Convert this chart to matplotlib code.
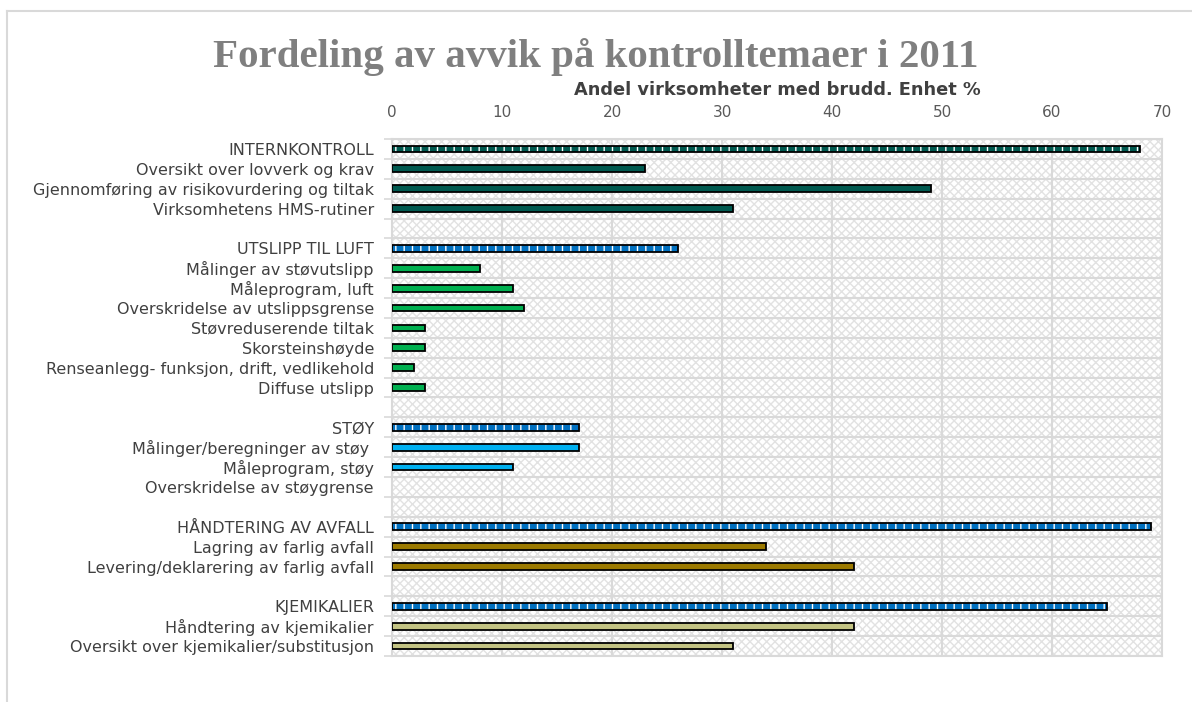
import numpy as np
import matplotlib
matplotlib.use('Agg')
import matplotlib.pyplot as plt
from matplotlib.patches import Rectangle
from matplotlib.lines import Line2D

plt.rcParams['hatch.linewidth'] = 1.0

# data
groups = ['INTERNKONTROLL', 'UTSLIPP TIL LUFT', 'STØY', 'HÅNDTERING AV AVFALL', 'KJEMIKALIER']
group_values = [68, 26, 17, 69, 65]

sub_labels = [
    ['Oversikt over lovverk og krav', 'Gjennomføring av risikovurdering og tiltak',
     'Virksomhetens HMS-rutiner'],
    ['Målinger av støvutslipp', 'Måleprogram, luft', 'Overskridelse av utslippsgrense',
     'Støvreduserende tiltak', 'Skorsteinshøyde', 'Renseanlegg- funksjon, drift, vedlikehold',
     'Diffuse utslipp'],
    ['Målinger/beregninger av støy ', 'Måleprogram, støy', 'Overskridelse av støygrense'],
    ['Lagring av farlig avfall', 'Levering/deklarering av farlig avfall'],
    ['Håndtering av kjemikalier', 'Oversikt over kjemikalier/substitusjon'],
]
sub_values = [
    [23, 49, 31],
    [8, 11, 12, 3, 3, 2, 3],
    [17, 11, 0],
    [34, 42],
    [42, 31],
]

group_colors = ['#00594f', '#0070c0', '#0070c0', '#0070c0', '#0070c0']
sub_colors = ['#00594f', '#00b050', '#00b0f0', '#9c7a00', '#c3c383']

# build rows (blank row between groups)
labels, values, colors, is_head = [], [], [], []
for i, g in enumerate(groups):
    if i > 0:
        labels.append('')
        values.append(0)
        colors.append('white')
        is_head.append(False)
    labels.append(g)
    values.append(group_values[i])
    colors.append(group_colors[i])
    is_head.append(True)
    for lab, v in zip(sub_labels[i], sub_values[i]):
        labels.append(lab)
        values.append(v)
        colors.append(sub_colors[i])
        is_head.append(False)

y = np.arange(len(labels))
values = np.array(values, dtype=float)
colors = np.array(colors)
is_head = np.array(is_head)

fig = plt.figure(figsize=(11.92, 7.02), dpi=100)
ax = fig.add_axes([392/1192, 1 - 656/702, 770/1192, 517/702])

# patterned background
ax.add_patch(Rectangle((0, -0.5), 70, len(labels), facecolor='white', edgecolor='#e2e2e2',
                       hatch='xxxx', linewidth=0, zorder=0))

h = 0.34
sub = ~is_head & (values > 0)
ax.barh(y[sub], values[sub], height=h, color=colors[sub], edgecolor='black',
        linewidth=1.3, zorder=3)
ax.barh(y[is_head], values[is_head], height=h, color=colors[is_head],
        edgecolor='white', hatch='||', linewidth=0, zorder=3)
ax.barh(y[is_head], values[is_head], height=h, color='none', edgecolor='black',
        linewidth=1.3, zorder=4)

ax.set_xlim(0, 70)
ax.set_ylim(len(labels) - 0.5, -0.5)
ax.set_xticks(np.arange(0, 71, 10))
ax.xaxis.tick_top()
ax.tick_params(axis='x', length=0, pad=14, labelsize=11, labelcolor='#595959')
ax.set_yticks(y)
ax.set_yticklabels(labels)
ax.tick_params(axis='y', which='major', length=0, pad=13, labelsize=11.5, labelcolor='#404040')
ax.set_yticks(np.arange(-0.5, len(labels)), minor=True)
ax.tick_params(axis='y', which='minor', length=6, color='#d9d9d9', width=1.2)
ax.grid(axis='x', color='#d9d9d9', linewidth=1.5, zorder=1)
ax.grid(axis='y', which='minor', color='#d9d9d9', linewidth=1.5, zorder=1)
ax.set_axisbelow(True)
for s in ax.spines.values():
    s.set_color('#d9d9d9')
    s.set_linewidth(1.5)

# axis title sits just above the tick labels
fig.text(777/1192, 1 - 90/702, 'Andel virksomheter med brudd. Enhet %', ha='center', va='center',
         fontsize=12.8, fontweight='bold', color='#404040')

fig.text(0.50, 1 - 57/702, 'Fordeling av avvik på kontrolltemaer i 2011', ha='center', va='center',
         fontsize=29.5, fontweight='bold', color='#7f7f7f', family='Liberation Serif')

# chart border
fig.add_artist(Line2D([7/1192, 1], [1 - 11/702, 1 - 11/702], color='#d9d9d9', linewidth=1.5))
fig.add_artist(Line2D([7/1192, 7/1192], [0, 1 - 11/702], color='#d9d9d9', linewidth=1.5))

plt.savefig('out.png', dpi=100)
